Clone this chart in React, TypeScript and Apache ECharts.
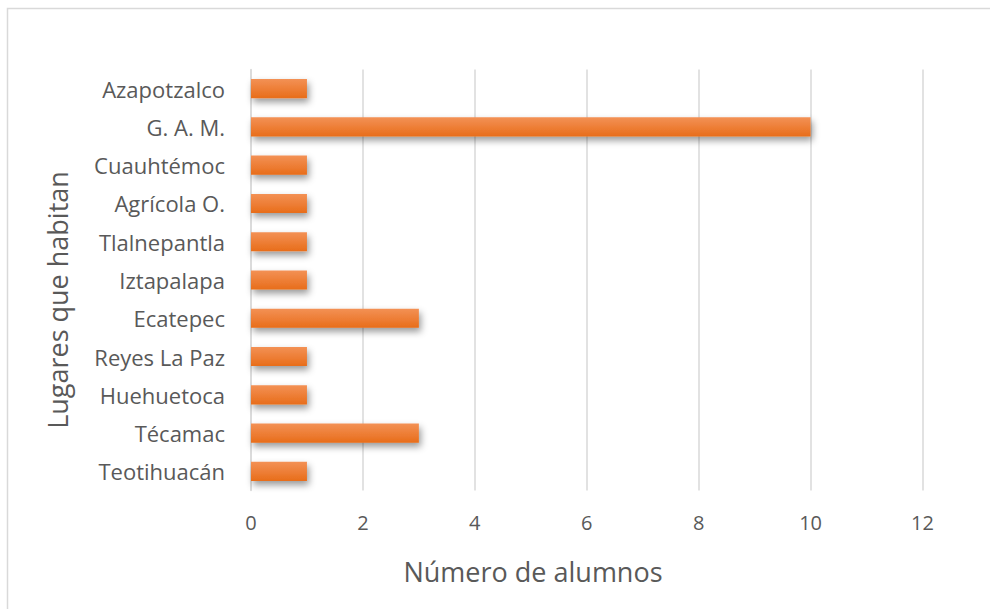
import React, { useEffect, useRef } from "react";
import * as echarts from "echarts";

const categories = [
  "Azapotzalco",
  "G. A. M.",
  "Cuauhtémoc",
  "Agrícola O.",
  "Tlalnepantla",
  "Iztapalapa",
  "Ecatepec",
  "Reyes La Paz",
  "Huehuetoca",
  "Técamac",
  "Teotihuacán",
];
const values = [1, 10, 1, 1, 1, 1, 3, 1, 1, 3, 1];
const xTitle = "Número de alumnos";
const yTitle = "Lugares que habitan";

const FONT = "'Open Sans', 'Noto Sans', sans-serif";
const TEXT = "#595959";

export default function App() {
  const ref = useRef<HTMLDivElement>(null);
  useEffect(() => {
    if (!ref.current) return;
    const chart = echarts.init(ref.current, undefined, { renderer: "svg" });
    chart.setOption({
      animation: false,
      backgroundColor: "#ffffff",
      grid: { left: 251, right: 67.5, top: 69.5, bottom: 118.5, containLabel: false },
      xAxis: {
        type: "value",
        min: 0,
        max: 12,
        interval: 2,
        axisLine: { show: false },
        axisTick: { show: false },
        splitLine: { show: true, lineStyle: { color: "#d9d9d9", width: 1.5 } },
        axisLabel: { color: TEXT, fontFamily: FONT, fontSize: 20, margin: 22 },
      },
      yAxis: {
        type: "category",
        data: categories,
        inverse: true,
        axisLine: { show: true, lineStyle: { color: "#d9d9d9", width: 1.5 } },
        axisTick: { show: false },
        axisLabel: { color: TEXT, fontFamily: FONT, fontSize: 22, margin: 26 },
      },
      series: [
        {
          type: "bar",
          data: values,
          barWidth: "50%",
          itemStyle: {
            color: new echarts.graphic.LinearGradient(0, 0, 0, 1, [
              { offset: 0, color: "#F39155" },
              { offset: 1, color: "#E86D1A" },
            ]),
            shadowColor: "rgba(0,0,0,0.4)",
            shadowBlur: 7,
            shadowOffsetX: 2,
            shadowOffsetY: 4,
          },
        },
      ],
      graphic: [
        {
          type: "rect",
          shape: { x: 7.5, y: 8.5, width: 1100, height: 1000 },
          style: { fill: "none", stroke: "#d9d9d9", lineWidth: 1.5 },
          silent: true,
        },
        {
          type: "text",
          x: 533,
          y: 571,
          style: {
            text: xTitle,
            fill: TEXT,
            font: `27px ${FONT}`,
            textAlign: "center",
            textVerticalAlign: "middle",
          },
        },
        {
          type: "text",
          x: 57,
          y: 300,
          rotation: Math.PI / 2,
          style: {
            text: yTitle,
            fill: TEXT,
            font: `27px ${FONT}`,
            textAlign: "center",
            textVerticalAlign: "middle",
          },
        },
      ],
    });
    return () => chart.dispose();
  }, []);
  return (
    <div
      ref={ref}
      style={{ position: "absolute", left: 0, top: 0, width: 990, height: 609 }}
    />
  );
}
